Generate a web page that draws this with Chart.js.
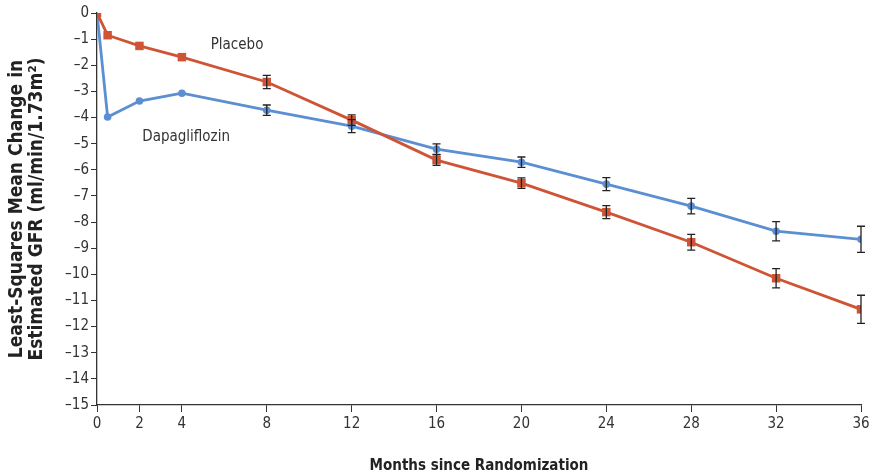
<!DOCTYPE html>
<html>
<head>
<meta charset="utf-8">
<script src="https://cdn.jsdelivr.net/npm/chart.js@4.4.1/dist/chart.umd.min.js"></script>
<style>
  html, body { margin: 0; padding: 0; background: #fff; }
  #wrap { width: 869px; height: 475px; }
</style>
</head>
<body>
<div id="wrap"><canvas id="gfrChart" width="869" height="475"></canvas></div>
<script>
// months since randomization
var months = [0, 0.5, 2, 4, 8, 12, 16, 20, 24, 28, 32, 36];
var xTicks = [0, 2, 4, 8, 12, 16, 20, 24, 28, 32, 36];

var placebo    = [0, -0.85, -1.26, -1.69, -2.64, -4.10, -5.63, -6.51, -7.62, -8.77, -10.15, -11.34];
var placeboErr = [0, 0.08, 0.1, 0.12, 0.25, 0.2, 0.2, 0.2, 0.25, 0.3, 0.37, 0.54];

var dapa    = [0, -3.98, -3.37, -3.07, -3.72, -4.33, -5.21, -5.71, -6.55, -7.39, -8.35, -8.66];
var dapaErr = [0, 0.08, 0.1, 0.1, 0.2, 0.25, 0.2, 0.2, 0.25, 0.3, 0.37, 0.5];

var labelFont = "'Liberation Sans Narrow', 'DejaVu Sans Condensed', 'Noto Sans', sans-serif";

function toXY(xs, ys) {
	var out = [];
	for (var i = 0; i < xs.length; i++) out.push({x: xs[i], y: ys[i]});
	return out;
}

// vertical error bars with caps, drawn on top of the lines
var errorBars = {
	id: 'errorBars',
	afterDatasetsDraw: function (chart) {
		var ctx = chart.ctx;
		var xs = chart.scales.x, ys = chart.scales.y;
		ctx.save();
		ctx.strokeStyle = '#222';
		ctx.lineWidth = 1.3;
		chart.data.datasets.forEach(function (ds) {
			if (!ds.errors) return;
			ds.data.forEach(function (p, i) {
				var e = ds.errors[i];
				if (!e || e < 0.15) return;
				var px = xs.getPixelForValue(p.x);
				var top = ys.getPixelForValue(p.y + e);
				var bot = ys.getPixelForValue(p.y - e);
				ctx.beginPath();
				ctx.moveTo(px, top); ctx.lineTo(px, bot);
				ctx.moveTo(px - 4, top); ctx.lineTo(px + 4, top);
				ctx.moveTo(px - 4, bot); ctx.lineTo(px + 4, bot);
				ctx.stroke();
			});
		});
		ctx.restore();
	}
};

// series labels placed at data coordinates
var seriesLabels = {
	id: 'seriesLabels',
	afterDraw: function (chart) {
		var ctx = chart.ctx;
		var xs = chart.scales.x, ys = chart.scales.y;
		ctx.save();
		ctx.fillStyle = '#333';
		ctx.font = "15px " + labelFont;
		ctx.textAlign = 'center';
		ctx.textBaseline = 'middle';
		ctx.fillText('Placebo', xs.getPixelForValue(6.6), ys.getPixelForValue(-1.22));
		ctx.fillText('Dapagliflozin', xs.getPixelForValue(4.2), ys.getPixelForValue(-4.75));
		ctx.restore();
	}
};

var data = {
	datasets: [
		{
			label: 'Placebo',
			data: toXY(months, placebo),
			errors: placeboErr,
			borderColor: '#cf5436',
			backgroundColor: '#cf5436',
			borderWidth: 2.8,
			pointStyle: 'rect',
			pointRadius: 6,
			pointBorderWidth: 0,
			lineTension: 0
		},
		{
			label: 'Dapagliflozin',
			data: toXY(months, dapa),
			errors: dapaErr,
			borderColor: '#5b8fd2',
			backgroundColor: '#5b8fd2',
			borderWidth: 2.8,
			pointStyle: 'circle',
			pointRadius: 3.8,
			pointBorderWidth: 0,
			lineTension: 0
		}
	]
};

var options = {
	responsive: false,
	animation: false,
	layout: { padding: { top: 13, right: 0, left: 0, bottom: 0 } },
	plugins: { legend: { display: false }, tooltip: { enabled: false } },
	scales: {
		x: {
			type: 'linear',
			min: 0,
			max: 36,
			afterBuildTicks: function (scale) {
				scale.ticks = xTicks.map(function (v) { return {value: v}; });
			},
			afterFit: function (scale) {
				scale.height = 70;
				scale.paddingRight = 8;
			},
			grid: { drawOnChartArea: false, tickLength: 7, color: '#333', tickColor: '#333' },
			border: { color: '#333', width: 1.3 },
			ticks: { color: '#333', font: { family: labelFont, size: 15 }, padding: 3, maxRotation: 0 },
			title: {
				display: true,
				text: 'Months since Randomization',
				color: '#222',
				font: { family: labelFont, size: 15, weight: 'bold' },
				padding: { top: 12, bottom: 0 }
			}
		},
		y: {
			min: -15,
			max: 0,
			afterFit: function (scale) { scale.width = 97; },
			grid: { drawOnChartArea: false, tickLength: 6, color: '#333', tickColor: '#333' },
			border: { color: '#333', width: 1.3 },
			ticks: {
				stepSize: 1,
				color: '#333',
				padding: 2,
				font: { family: labelFont, size: 15 },
				callback: function (v) { return v < 0 ? '\u2013' + Math.abs(v) : '' + v; }
			},
			title: {
				display: true,
				text: ['Least-Squares Mean Change in', 'Estimated GFR (ml/min/1.73m\u00b2)'],
				color: '#222',
				font: { family: labelFont, size: 19, weight: 'bold', lineHeight: 1.05 },
				padding: { top: 7, bottom: 0 }
			}
		}
	}
};

var gfrChart = new Chart(document.getElementById('gfrChart'), {
	type: 'line',
	data: data,
	options: options,
	plugins: [errorBars, seriesLabels]
});
</script>
</body>
</html>
